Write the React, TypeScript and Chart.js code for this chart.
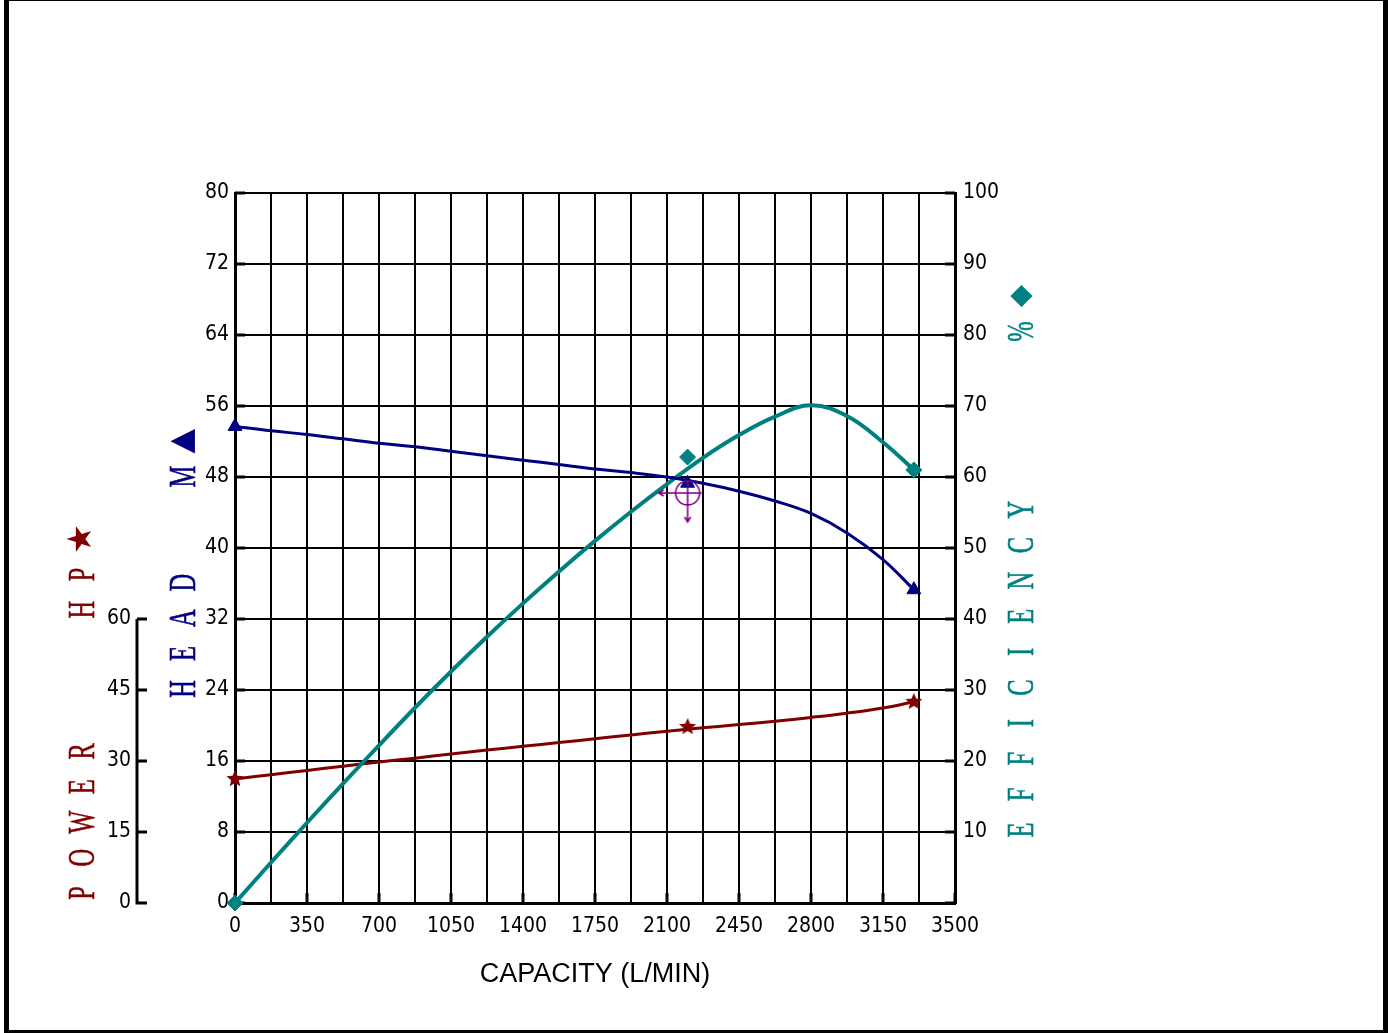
import { useEffect, useRef } from 'react'
import { Chart, registerables } from 'chart.js'

Chart.register(...registerables)

// pump curve
const flows = [0, 175, 350, 525, 700, 875, 1050, 1225, 1400, 1575, 1750, 1925, 2100, 2275, 2450, 2625, 2800, 2975, 3150, 3300]
const headCurve = [53.7, 53.2, 52.8, 52.3, 51.8, 51.4, 50.9, 50.4, 49.9, 49.4, 48.9, 48.5, 48.0, 47.3, 46.4, 45.3, 43.9, 41.7, 38.7, 35.3]
const effCurve = [0, 5.7, 11.3, 16.8, 22.2, 27.5, 32.6, 37.5, 42.2, 46.7, 51.0, 55.1, 59.0, 62.7, 65.9, 68.5, 70.1, 68.6, 64.9, 61.0]
const powerCurve = [26.2, 27.1, 28.0, 28.9, 29.8, 30.6, 31.5, 32.3, 33.1, 33.9, 34.7, 35.5, 36.3, 37.0, 37.7, 38.4, 39.2, 40.1, 41.2, 42.5]

// test points (markers)
const testFlows = [0, 2200, 3300]
const testHead = [53.7, 47.3, 35.3]
const testEff = [0, 62.8, 61.0]
const testPower = [26.2, 37.2, 42.5]

// duty point
const dutyFlow = [2200]
const dutyHead = [46.2]

const headTitle = 'HEAD  M▲'
const powerTitle = 'POWER   HP★'
const effTitle = 'EFFICIENCY    %◆'

const NAVY = '#000080'
const MAROON = '#800000'
const TEAL = '#008080'
const PURPLE = '#800080'

const tickFont = {
  family: '"Liberation Sans Narrow", "Arial Narrow", "DejaVu Sans Condensed", "Liberation Sans", sans-serif',
  size: 21,
}

const symbolSize: Record<string, number> = { '▲': 32, '★': 34, '◆': 29 }

const pts = (xs: number[], ys: number[]) => xs.map((x, i) => ({ x, y: ys[i] }))

function starImage(color: string, r: number) {
  const c = document.createElement('canvas')
  const s = Math.ceil(r * 2 + 2)
  c.width = s
  c.height = s
  const g = c.getContext('2d')!
  g.fillStyle = color
  g.beginPath()
  for (let i = 0; i < 10; i++) {
    const rr = i % 2 === 0 ? r : r * 0.45
    const a = -Math.PI / 2 + (i * Math.PI) / 5
    g.lineTo(s / 2 + rr * Math.cos(a), s / 2 + rr * Math.sin(a))
  }
  g.closePath()
  g.fill()
  return c
}

function dutyImage() {
  const c = document.createElement('canvas')
  c.width = 64
  c.height = 64
  const g = c.getContext('2d')!
  const m = 32
  g.strokeStyle = PURPLE
  g.lineWidth = 1.6
  g.beginPath()
  g.arc(m, m, 12, 0, Math.PI * 2)
  g.moveTo(m - 29, m)
  g.lineTo(m + 14, m)
  g.moveTo(m, m - 12)
  g.lineTo(m, m + 29)
  // arrow heads
  g.moveTo(m - 24, m - 3)
  g.lineTo(m - 29, m)
  g.lineTo(m - 24, m + 3)
  g.moveTo(m - 3, m + 24)
  g.lineTo(m, m + 29)
  g.lineTo(m + 3, m + 24)
  g.stroke()
  return c
}

function spaced(ctx: CanvasRenderingContext2D, text: string, x: number, y0: number, pitch: number, color: string) {
  ctx.save()
  ctx.fillStyle = color
  ctx.strokeStyle = color
  ctx.lineWidth = 0.6
  ctx.textAlign = 'center'
  ctx.textBaseline = 'middle'
  Array.from(text).forEach((ch, i) => {
    if (ch === ' ') return
    const sym = symbolSize[ch]
    ctx.font = sym ? `${sym}px "DejaVu Sans"` : '37px "Liberation Serif"'
    ctx.save()
    ctx.translate(x, y0 - i * pitch)
    ctx.rotate(-Math.PI / 2)
    if (!sym) ctx.scale(0.66, 1)
    ctx.fillText(ch, 0, sym ? 0 : 2)
    if (!sym) ctx.strokeText(ch, 0, 2)
    ctx.restore()
  })
  ctx.restore()
}

const decor = {
  id: 'decor',
  beforeDatasetsDraw(chart: any) {
    const { ctx, chartArea: a, scales } = chart
    const x = scales.x
    const yh = scales.yHead
    const ye = scales.yEff
    const yp = scales.yPow
    ctx.save()
    ctx.strokeStyle = '#000'
    ctx.lineWidth = 3
    ctx.beginPath()
    yh.ticks.forEach((t: any) => {
      const y = yh.getPixelForValue(t.value)
      ctx.moveTo(a.left, y)
      ctx.lineTo(a.left + 10, y)
    })
    ye.ticks.forEach((t: any) => {
      const y = ye.getPixelForValue(t.value)
      ctx.moveTo(a.right - 10, y)
      ctx.lineTo(a.right, y)
    })
    x.ticks.forEach((t: any) => {
      if (t.value % 350 !== 0) return
      const px = x.getPixelForValue(t.value)
      ctx.moveTo(px, a.bottom)
      ctx.lineTo(px, a.bottom - 10)
    })
    // separate power axis, only 0..60
    const px = yp.right
    ctx.moveTo(px, yp.getPixelForValue(0) + 1.5)
    ctx.lineTo(px, yp.getPixelForValue(60))
    yp.ticks.forEach((t: any) => {
      if (t.value > 60) return
      const y = yp.getPixelForValue(t.value)
      ctx.moveTo(px, y)
      ctx.lineTo(px + 10, y)
    })
    ctx.stroke()
    ctx.restore()
  },
  afterDraw(chart: any) {
    const { ctx, chartArea: a } = chart
    spaced(ctx, headTitle, a.left - 52, a.bottom - 214, 35.4, NAVY)
    spaced(ctx, powerTitle, a.left - 153, a.bottom - 10, 35.4, MAROON)
    spaced(ctx, effTitle, a.right + 66, a.bottom - 73, 35.6, TEAL)
  },
}

export default function App() {
  const ref = useRef<HTMLCanvasElement>(null)

  useEffect(() => {
    if (!ref.current) return
    const star = starImage(MAROON, 9)
    const duty = dutyImage()

    const chart = new Chart(ref.current, {
      type: 'line',
      data: {
        datasets: [
          { data: pts(dutyFlow, dutyHead), yAxisID: 'yHead', showLine: false, pointStyle: duty, pointRadius: 32, clip: false },
          { data: pts(testFlows, testHead), yAxisID: 'yHead', showLine: false, pointStyle: 'triangle', pointRadius: 8, backgroundColor: NAVY, borderColor: NAVY, clip: false },
          { data: pts(testFlows, testEff), yAxisID: 'yEff', showLine: false, pointStyle: 'rectRot', pointRadius: 8, backgroundColor: TEAL, borderColor: TEAL, clip: false },
          { data: pts(testFlows, testPower), yAxisID: 'yPow', showLine: false, pointStyle: star, pointRadius: 9, clip: false },
          { data: pts(flows, headCurve), yAxisID: 'yHead', borderColor: NAVY, borderWidth: 3, pointRadius: 0, tension: 0.4, fill: false },
          { data: pts(flows, effCurve), yAxisID: 'yEff', borderColor: TEAL, borderWidth: 4, pointRadius: 0, tension: 0.4, fill: false },
          { data: pts(flows, powerCurve), yAxisID: 'yPow', borderColor: MAROON, borderWidth: 3, pointRadius: 0, tension: 0.4, fill: false },
        ] as any,
      },
      options: {
        animation: false,
        responsive: false,
        layout: { padding: { left: 57, right: 338, top: 193, bottom: 30 } },
        plugins: { legend: { display: false }, tooltip: { enabled: false } },
        scales: {
          x: {
            type: 'linear',
            min: 0,
            max: 3500,
            ticks: {
              stepSize: 175,
              autoSkip: false,
              maxRotation: 0,
              color: '#000',
              font: tickFont,
              padding: 11,
              callback: (v: any) => (v % 350 === 0 ? String(v) : ''),
            },
            grid: { color: '#000', lineWidth: 2, drawTicks: false },
            border: { color: '#000', width: 3 },
            title: {
              display: true,
              text: 'CAPACITY (L/MIN)',
              color: '#000',
              font: { family: '"Liberation Sans", sans-serif', size: 27 },
              padding: { top: 0, bottom: 12 },
            },
            afterFit: (s: any) => { s.height = 100 },
          },
          yHead: {
            type: 'linear',
            position: 'left',
            weight: 0,
            min: 0,
            max: 80,
            ticks: { stepSize: 8, autoSkip: false, color: '#000', font: tickFont, padding: 6 },
            grid: { color: '#000', lineWidth: 2, drawTicks: false },
            border: { color: '#000', width: 3 },
            afterFit: (s: any) => { s.width = 98 },
          },
          yPow: {
            type: 'linear',
            position: 'left',
            weight: 1,
            min: 0,
            max: 150,
            ticks: {
              stepSize: 15,
              autoSkip: false,
              color: '#000',
              font: tickFont,
              padding: 6,
              callback: (v: any) => (v <= 60 ? String(v) : ''),
            },
            grid: { display: false, drawTicks: false },
            border: { display: false },
            afterFit: (s: any) => { s.width = 80 },
          },
          yEff: {
            type: 'linear',
            position: 'right',
            min: 0,
            max: 100,
            ticks: {
              stepSize: 10,
              autoSkip: false,
              color: '#000',
              font: tickFont,
              padding: 8,
              callback: (v: any) => (v === 0 ? '' : String(v)),
            },
            grid: { display: false, drawTicks: false },
            border: { color: '#000', width: 3 },
            afterFit: (s: any) => { s.width = 100 },
          },
        },
      } as any,
      plugins: [decor],
    })

    return () => { chart.destroy() }
  }, [])

  return (
    <div style={{ position: 'fixed', left: 0, top: 0, width: 1393, height: 1033, background: '#fff' }}>
      <canvas ref={ref} width={1393} height={1033} style={{ display: 'block' }} />
      <div
        style={{
          position: 'absolute',
          left: 4,
          top: 0,
          width: 1384,
          height: 1033,
          boxSizing: 'border-box',
          borderLeft: '5px solid #000',
          borderRight: '5px solid #000',
          borderTop: '1px solid #000',
          borderBottom: '3px solid #000',
          pointerEvents: 'none',
        }}
      />
    </div>
  )
}
